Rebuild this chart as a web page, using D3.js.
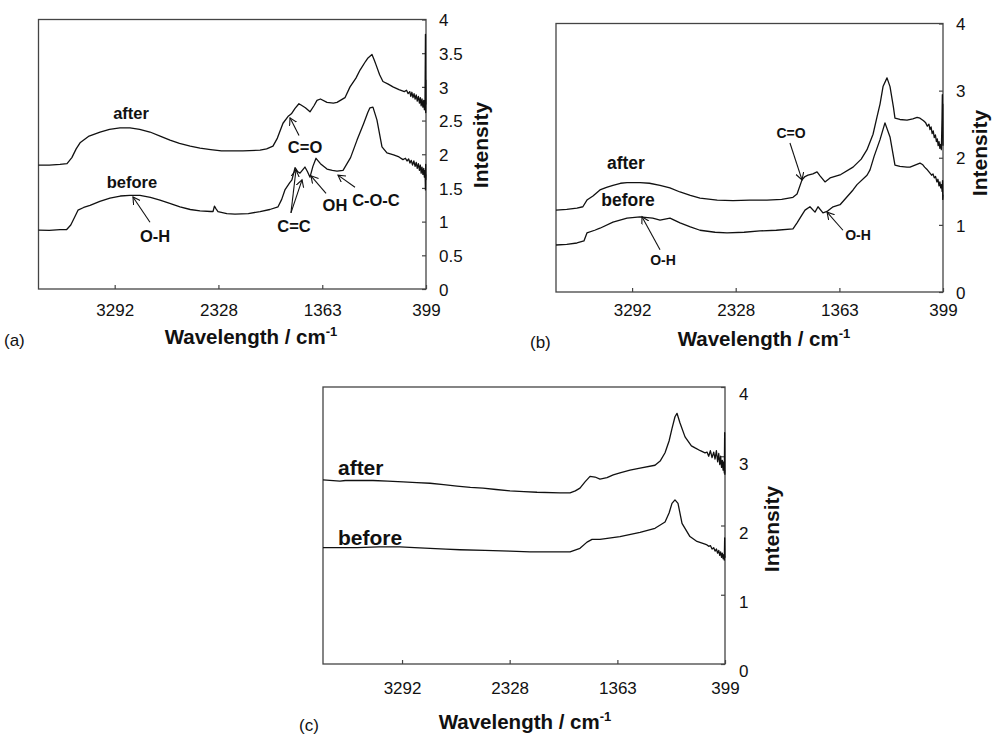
<!DOCTYPE html>
<html><head><meta charset="utf-8">
<script src="https://cdn.jsdelivr.net/npm/d3@7"></script>
<style>
html,body{margin:0;padding:0;background:#fff;}
svg text{font-family:"Liberation Sans",Arial,Helvetica,sans-serif;fill:#111;}
</style></head>
<body>
<svg id="chart" width="994" height="734"></svg>
<script>
// ---------------- DATA ----------------
const xTicks = [3292, 2328, 1363, 399];
const yTicksA = [0, 0.5, 1, 1.5, 2, 2.5, 3, 3.5, 4];
const yTicksBC = [0, 1, 2, 3, 4];
const xDomain = [4000, 399];
const yDomain = [0, 4];

// panel (a)
const aAfter = [[4000,1.84],[3900,1.84],[3800,1.85],[3735,1.86],[3690,1.95],[3650,2.08],[3614,2.17],[3530,2.27],[3428,2.33],[3340,2.37],[3243,2.39],[3150,2.39],[3060,2.37],[2964,2.33],[2870,2.27],[2778,2.21],[2690,2.16],[2590,2.12],[2499,2.09],[2400,2.07],[2300,2.05],[2220,2.05],[2100,2.05],[1941,2.06],[1880,2.08],[1821,2.12],[1780,2.24],[1728,2.46],[1682,2.56],[1650,2.60],[1616,2.68],[1580,2.75],[1560,2.73],[1520,2.69],[1477,2.63],[1440,2.72],[1412,2.80],[1380,2.82],[1319,2.77],[1260,2.76],[1226,2.77],[1152,2.84],[1105,3.00],[1050,3.13],[1012,3.25],[960,3.38],[938,3.43],[901,3.48],[880,3.40],[864,3.33],[830,3.18],[799,3.08],[750,3.04],[706,3.00],[650,2.96],[600,2.93],[580,2.95],[565,2.90],[550,2.93],[540,2.86],[530,2.92],[520,2.84],[510,2.90],[500,2.82],[490,2.88],[480,2.79],[470,2.86],[460,2.76],[452,2.84],[444,2.72],[436,2.82],[428,2.70],[420,2.80],[414,2.66],[408,2.78],[404,3.78],[402,2.62],[400,3.10],[399,2.74]];
const aBefore = [[4000,0.875],[3900,0.87],[3800,0.88],[3740,0.88],[3700,0.95],[3660,1.08],[3633,1.17],[3580,1.21],[3521,1.24],[3430,1.30],[3336,1.35],[3240,1.38],[3150,1.39],[3057,1.39],[2960,1.36],[2871,1.32],[2780,1.27],[2685,1.22],[2590,1.18],[2499,1.16],[2400,1.15],[2378,1.15],[2365,1.23],[2350,1.19],[2332,1.15],[2250,1.12],[2174,1.11],[2050,1.12],[1941,1.15],[1850,1.18],[1774,1.22],[1740,1.33],[1710,1.47],[1665,1.58],[1645,1.62],[1616,1.80],[1590,1.74],[1570,1.72],[1524,1.81],[1500,1.74],[1477,1.66],[1450,1.82],[1421,1.94],[1380,1.86],[1319,1.78],[1270,1.76],[1226,1.75],[1170,1.76],[1100,1.95],[1040,2.21],[980,2.45],[940,2.62],[920,2.69],[892,2.70],[855,2.51],[808,2.11],[762,2.02],[700,1.99],[650,1.96],[613,1.92],[590,1.94],[575,1.90],[560,1.93],[548,1.87],[536,1.91],[524,1.84],[512,1.90],[500,1.82],[490,1.88],[480,1.79],[470,1.86],[460,1.76],[452,1.84],[444,1.72],[436,1.81],[428,1.70],[420,1.79],[414,1.66],[408,1.76],[404,1.47],[402,1.85],[400,1.62],[399,1.70]];

// panel (b)
const bAfter = [[4000,1.22],[3900,1.23],[3805,1.25],[3750,1.27],[3712,1.37],[3656,1.43],[3591,1.52],[3530,1.56],[3470,1.59],[3400,1.62],[3339,1.63],[3218,1.63],[3130,1.62],[3032,1.59],[2940,1.55],[2846,1.49],[2750,1.44],[2660,1.40],[2500,1.37],[2353,1.36],[2200,1.37],[2037,1.37],[1900,1.38],[1795,1.41],[1757,1.46],[1711,1.67],[1683,1.72],[1655,1.74],[1610,1.76],[1571,1.79],[1543,1.73],[1497,1.64],[1450,1.70],[1350,1.75],[1236,1.86],[1160,1.98],[1106,2.12],[1050,2.35],[1013,2.61],[985,2.80],[957,3.06],[920,3.19],[892,3.06],[860,2.75],[846,2.59],[800,2.57],[734,2.56],[680,2.58],[640,2.60],[613,2.59],[580,2.55],[560,2.52],[545,2.47],[530,2.50],[520,2.42],[510,2.46],[500,2.36],[490,2.40],[480,2.30],[470,2.34],[460,2.24],[452,2.28],[444,2.18],[436,2.24],[428,2.14],[420,2.20],[414,2.12],[408,2.60],[405,2.94],[403,2.30],[401,2.80],[399,2.18]];
const bBefore = [[4000,0.70],[3900,0.71],[3805,0.73],[3740,0.76],[3712,0.88],[3640,0.92],[3591,0.95],[3470,1.04],[3339,1.10],[3218,1.12],[3100,1.10],[3032,1.07],[2939,1.10],[2900,1.07],[2846,1.03],[2750,0.97],[2660,0.92],[2520,0.89],[2409,0.88],[2250,0.89],[2102,0.91],[1950,0.92],[1795,0.94],[1757,1.03],[1711,1.15],[1683,1.22],[1637,1.27],[1590,1.19],[1562,1.27],[1516,1.18],[1478,1.20],[1422,1.27],[1357,1.30],[1236,1.52],[1199,1.60],[1106,1.74],[1078,1.82],[1040,2.02],[985,2.27],[939,2.52],[892,2.31],[846,1.89],[800,1.87],[734,1.86],[706,1.86],[613,1.92],[590,1.90],[570,1.86],[550,1.83],[535,1.80],[520,1.77],[505,1.74],[492,1.76],[480,1.70],[468,1.72],[456,1.64],[446,1.68],[436,1.58],[428,1.64],[420,1.55],[413,1.60],[407,1.50],[403,1.66],[401,1.38],[399,1.45]];

// panel (c)
const cAfter = [[4000,2.66],[3848,2.64],[3800,2.65],[3695,2.65],[3552,2.65],[3420,2.64],[3283,2.63],[3160,2.62],[3041,2.61],[2920,2.59],[2800,2.57],[2680,2.55],[2567,2.54],[2450,2.52],[2325,2.50],[2200,2.49],[2083,2.48],[1877,2.47],[1787,2.47],[1740,2.50],[1698,2.54],[1653,2.63],[1608,2.71],[1563,2.70],[1519,2.67],[1456,2.69],[1400,2.73],[1340,2.76],[1250,2.80],[1160,2.83],[1026,2.87],[980,2.93],[936,3.05],[900,3.22],[874,3.40],[847,3.57],[829,3.62],[802,3.48],[757,3.28],[700,3.15],[667,3.12],[620,3.08],[578,3.05],[560,3.06],[545,3.00],[530,3.08],[515,2.98],[500,3.06],[488,2.96],[476,3.08],[465,2.92],[455,3.04],[446,2.88],[438,3.00],[430,2.84],[423,2.94],[416,2.80],[410,2.92],[405,2.76],[402,3.34],[400,2.74],[399,2.80]];
const cBefore = [[4000,1.68],[3850,1.68],[3695,1.68],[3500,1.69],[3310,1.69],[3180,1.68],[3041,1.67],[2900,1.66],[2773,1.65],[2550,1.64],[2325,1.63],[2146,1.62],[1960,1.62],[1787,1.62],[1698,1.67],[1635,1.76],[1590,1.80],[1519,1.80],[1340,1.84],[1160,1.90],[1026,1.96],[936,2.05],[900,2.18],[874,2.32],[847,2.37],[820,2.32],[784,2.03],[713,1.84],[650,1.77],[578,1.73],[560,1.72],[545,1.70],[530,1.71],[515,1.66],[500,1.68],[488,1.63],[476,1.66],[465,1.60],[455,1.64],[446,1.57],[438,1.62],[430,1.54],[423,1.60],[416,1.52],[410,1.58],[405,1.50],[402,1.82],[400,1.54],[399,1.56]];

// annotations: [text, wn, value]; arrows: [fromWn, fromVal, toWn, toVal]
const aLabels = [["after",3140,2.61],["before",3131,1.59],["O-H",2917,0.79],["C=O",1523,2.11],["C=C",1626,0.93],["OH",1245,1.25],["C-O-C",864,1.32]];
const aArrows = [[2964,0.99,3122,1.365],[1579,2.28,1663,2.54],[1654,1.13,1607,1.77],[1654,1.13,1551,1.62],[1328,1.42,1468,1.68],[1059,1.51,1217,1.69]];
const bLabels = [["after",3349,1.92],["before",3330,1.37],["C=O",1813,2.37],["O-H",1190,0.85],["O-H",3004,0.48]];
const bArrows = [[1823,2.22,1711,1.67],[1330,0.92,1478,1.19],[3032,0.63,3200,1.12]];
const cLabels = [["after",3866,2.83],["before",3866,1.83]];

// ---------------- DRAW ----------------
const svg = d3.select("#chart");
const defs = svg.append("defs");
defs.append("marker").attr("id","arr").attr("markerUnits","userSpaceOnUse")
  .attr("markerWidth",10).attr("markerHeight",10).attr("refX",7).attr("refY",4)
  .attr("orient","auto")
  .append("path").attr("d","M0,0 L7,4 L0,8").attr("fill","none").attr("stroke","#111").attr("stroke-width",1.1);

const panels = [
  {id:"(a)", l:38.5, r:426, t:19.5, b:289, yt:yTicksA, series:[aAfter,aBefore], labels:aLabels, arrows:aArrows, lblSize:16.5, lblAnchor:"middle",
   yPad:13, yDy:"0.36em", xPad:15, xLab:[251,344], yLab:[488,145], tag:[4,346]},
  {id:"(b)", l:556, r:943, t:23.5, b:292, yt:yTicksBC, series:[bAfter,bBefore], labels:bLabels, arrows:bArrows, lblSize:null, lblAnchor:"middle",
   yPad:13, yDy:"0.36em", xPad:12, xLab:[764,346], yLab:[987,153], tag:[530,348]},
  {id:"(c)", l:323, r:725, t:387, b:664, yt:yTicksBC, series:[cAfter,cBefore], labels:cLabels, arrows:[], lblSize:21, lblAnchor:"start",
   yPad:14, yDy:"0.75em", xPad:18, xLab:[525,729], yLab:[779,529], tag:[299,731]}
];

const line = (x,y) => d3.line().x(d=>x(d[0])).y(d=>y(d[1]));

panels.forEach(p => {
  const g = svg.append("g");
  const x = d3.scaleLinear().domain(xDomain).range([p.l, p.r]);
  const y = d3.scaleLinear().domain(yDomain).range([p.b, p.t]);

  // box
  g.append("rect").attr("x",p.l).attr("y",p.t).attr("width",p.r-p.l).attr("height",p.b-p.t)
    .attr("fill","none").attr("stroke","#444").attr("stroke-width",1.3);

  // bottom axis (inward ticks)
  const xa = g.append("g").attr("transform",`translate(0,${p.b})`)
    .call(d3.axisBottom(x).tickValues(xTicks).tickSize(-4).tickPadding(p.xPad).tickFormat(d=>String(d)));
  xa.select(".domain").remove();
  xa.selectAll("line").attr("stroke","#444").attr("stroke-width",1.2);
  xa.selectAll("text").attr("font-size",17).attr("fill","#222").style("font-family","'Liberation Sans',Arial,sans-serif");

  // right axis (inward ticks)
  const ya = g.append("g").attr("transform",`translate(${p.r},0)`)
    .call(d3.axisRight(y).tickValues(p.yt).tickSize(-4).tickPadding(p.yPad).tickFormat(d=>String(d)));
  ya.select(".domain").remove();
  ya.selectAll("line").attr("stroke","#444").attr("stroke-width",1.2);
  ya.selectAll("text").attr("font-size",17).attr("fill","#222").attr("dy",p.yDy).style("font-family","'Liberation Sans',Arial,sans-serif");

  // series
  p.series.forEach(s => {
    g.append("path").datum(s).attr("d", line(x,y)).attr("fill","none")
      .attr("stroke","#111").attr("stroke-width",1.3).attr("stroke-linejoin","round");
  });

  // annotation labels
  p.labels.forEach((lb,i) => {
    let size = p.lblSize;
    if (size === null) size = (i < 2) ? 17.5 : 14;
    g.append("text").attr("x",x(lb[1])).attr("y",y(lb[2])).attr("dy","0.35em")
      .attr("text-anchor",p.lblAnchor).attr("font-weight","bold").attr("font-size",size).text(lb[0]);
  });
  p.arrows.forEach(a => {
    g.append("line").attr("x1",x(a[0])).attr("y1",y(a[1])).attr("x2",x(a[2])).attr("y2",y(a[3]))
      .attr("stroke","#111").attr("stroke-width",1.1).attr("marker-end","url(#arr)");
  });

  // axis titles
  const xt = g.append("text").attr("x",p.xLab[0]).attr("y",p.xLab[1]).attr("text-anchor","middle")
    .attr("font-weight","bold").attr("font-size",20.5);
  xt.append("tspan").text("Wavelength / cm");
  xt.append("tspan").attr("dy",-8).attr("font-size",13).text("-1");

  g.append("text").attr("transform",`translate(${p.yLab[0]},${p.yLab[1]}) rotate(-90)`)
    .attr("text-anchor","middle").attr("font-weight","bold").attr("font-size",21).text("Intensity");

  g.append("text").attr("x",p.tag[0]).attr("y",p.tag[1]).attr("font-size",17).attr("fill","#222").text(p.id);
});
</script>
</body></html>
